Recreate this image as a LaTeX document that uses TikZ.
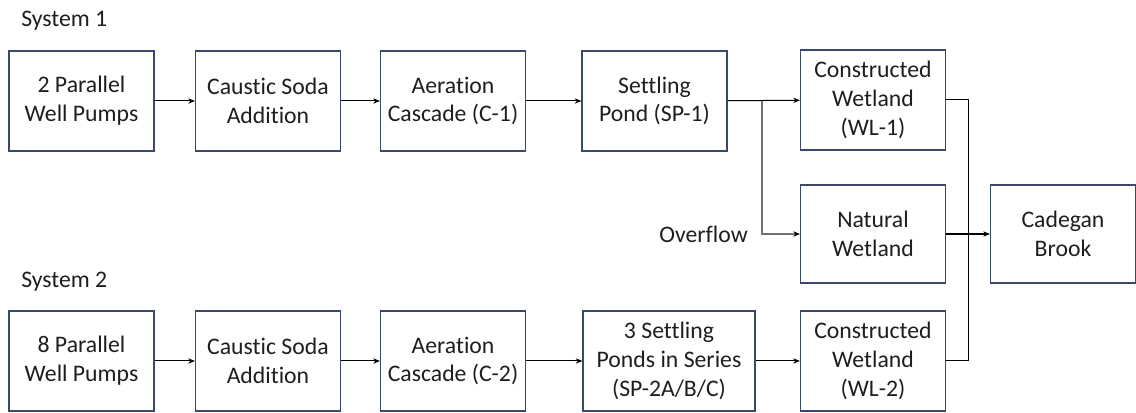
\documentclass[tikz,border=0pt]{standalone}
\usepackage{fontspec}
\setmainfont[Ligatures=NoCommon]{Carlito}
\usetikzlibrary{arrows.meta}
\definecolor{boxline}{RGB}{58,72,105}
\definecolor{txt}{RGB}{30,30,30}
\begin{document}
\begin{tikzpicture}[x=0.75pt,y=-0.75pt,
  proc/.style={draw=boxline,line width=0.9pt,minimum width=108.75pt,minimum height=75pt,align=center,inner sep=0pt,text=txt,font=\fontsize{17.8}{21.5}\selectfont},
  flow/.style={draw=black,line width=0.75pt,-{Stealth[length=5pt,width=4pt]}},
  grayflow/.style={draw=black!55,line width=1pt,-{Stealth[length=5pt,width=4pt,color=black]}},
  lbl/.style={text=txt,font=\fontsize{17.8}{21.5}\selectfont,inner sep=0pt}]
\useasboundingbox (0,0) rectangle (1136,413);
\node[lbl,anchor=west] (s1) at (21,21) {System 1};
\node[lbl,anchor=west] (s2) at (21,282) {System 2};
% row 1
\node[proc] (a1) at (81.5,101) {2 Parallel\\Well Pumps};
\node[proc] (a2) at (268,101) {Caustic Soda\\Addition};
\node[proc] (a3) at (453,101) {Aeration\\Cascade (C-1)};
\node[proc] (a4) at (654.5,101) {Settling\\Pond (SP-1)};
\node[proc] (a5) at (873,100) {Constructed\\Wetland\\(WL-1)};
% middle
\node[proc,minimum height=73.5pt] (nw) at (873,234) {Natural\\Wetland};
\node[proc,minimum height=73.5pt] (cb) at (1063,234) {Cadegan\\Brook};
% row 2
\node[proc] (b1) at (81.5,361) {8 Parallel\\Well Pumps};
\node[proc] (b2) at (268,361) {Caustic Soda\\Addition};
\node[proc] (b3) at (453,361) {Aeration\\Cascade (C-2)};
\node[proc,minimum width=129pt] (b4) at (669,361) {3 Settling\\Ponds in Series\\(SP-2A/B/C)};
\node[proc] (b5) at (873,361) {Constructed\\Wetland\\(WL-2)};
\node[lbl,anchor=east] (ov) at (748,234) {Overflow};
\coordinate (j) at (968,234);
\coordinate (br) at (762,101);
% connectors row 1
\draw[flow] (a1) -- (a2);
\draw[flow] (a2) -- (a3);
\draw[flow] (a3) -- (a4);
\draw[flow] (a4) -- (a5);
\draw[grayflow] (br) |- (nw);
% row 2
\draw[flow] (b1) -- (b2);
\draw[flow] (b2) -- (b3);
\draw[flow] (b3) -- (b4);
\draw[flow] (b4) -- (b5);
% to brook
\draw[line width=0.75pt] (a5.east) -| (j);
\draw[line width=0.75pt] (b5.east) -| (j);
\draw[flow,line width=0.9pt] (nw) -- (cb);
\end{tikzpicture}
\end{document}
